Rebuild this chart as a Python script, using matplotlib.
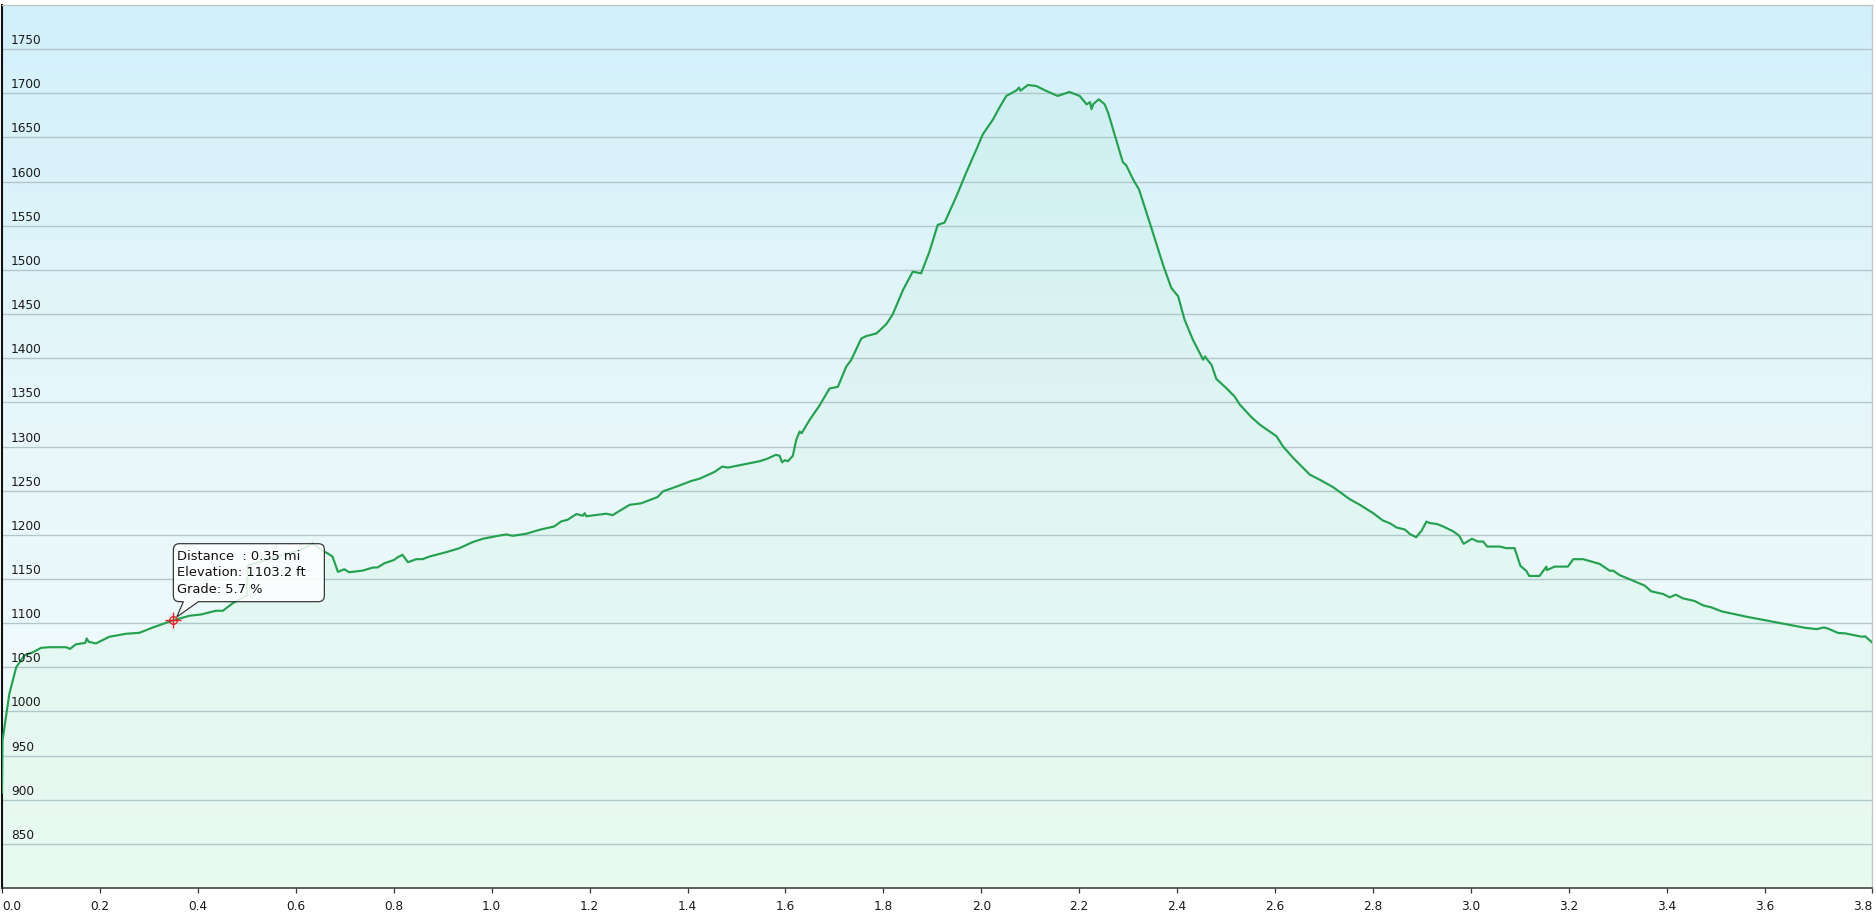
import numpy as np
import matplotlib
matplotlib.use("Agg")
import matplotlib.pyplot as plt
import matplotlib.transforms as mtransforms
from matplotlib.colors import LinearSegmentedColormap
from matplotlib.path import Path
from matplotlib.patches import PathPatch

# elevation profile (miles, feet)
distance_mi = [
    0.000, 0.001, 0.015, 0.029, 0.046, 0.063, 0.080, 0.097, 0.131, 0.139,
    0.151, 0.170, 0.173, 0.177, 0.192, 0.219, 0.253, 0.2805, 0.3077, 0.350,
    0.3826, 0.4065, 0.437, 0.451, 0.471, 0.495, 0.500, 0.502, 0.530, 0.560,
    0.610, 0.634, 0.655, 0.665, 0.675, 0.686, 0.699, 0.709, 0.737, 0.757,
    0.767, 0.781, 0.801, 0.808, 0.818, 0.829, 0.846, 0.859, 0.873, 0.907,
    0.934, 0.961, 0.982, 1.016, 1.030, 1.043, 1.070, 1.098, 1.128, 1.142,
    1.155, 1.173, 1.186, 1.190, 1.193, 1.207, 1.234, 1.247, 1.282, 1.305,
    1.339, 1.350, 1.377, 1.408, 1.425, 1.455, 1.471, 1.482, 1.513, 1.547,
    1.564, 1.580, 1.588, 1.593, 1.599, 1.605, 1.615, 1.622, 1.629, 1.633,
    1.649, 1.670, 1.690, 1.707, 1.724, 1.734, 1.755, 1.765, 1.786, 1.806,
    1.819, 1.840, 1.860, 1.877, 1.894, 1.911, 1.925, 1.949, 1.969, 1.990,
    2.003, 2.024, 2.037, 2.051, 2.072, 2.077, 2.080, 2.095, 2.112, 2.133,
    2.156, 2.180, 2.201, 2.215, 2.222, 2.225, 2.229, 2.240, 2.252, 2.259,
    2.276, 2.289, 2.296, 2.310, 2.322, 2.344, 2.371, 2.388, 2.402, 2.415,
    2.432, 2.453, 2.457, 2.462, 2.470, 2.480, 2.500, 2.517, 2.528, 2.552,
    2.569, 2.603, 2.616, 2.637, 2.671, 2.691, 2.718, 2.752, 2.773, 2.800,
    2.820, 2.834, 2.848, 2.865, 2.875, 2.888, 2.899, 2.909, 2.916, 2.930,
    2.943, 2.964, 2.976, 2.985, 3.002, 3.014, 3.025, 3.033, 3.059, 3.072,
    3.089, 3.101, 3.113, 3.119, 3.140, 3.154, 3.155, 3.171, 3.198, 3.209,
    3.229, 3.263, 3.284, 3.290, 3.304, 3.331, 3.355, 3.368, 3.392, 3.406,
    3.418, 3.433, 3.457, 3.474, 3.491, 3.512, 3.563, 3.645, 3.682, 3.706,
    3.721, 3.730, 3.750, 3.764, 3.798, 3.805, 3.819,
]
elevation_ft = [
    908, 967, 1020, 1050, 1063.6, 1067, 1072, 1072.7, 1072.7, 1070.8,
    1076, 1077.6, 1082.6, 1078.8, 1077, 1084.5, 1087.9, 1089, 1095, 1103.2,
    1108.3, 1109.8, 1114, 1114, 1122.4, 1130, 1131, 1165, 1170, 1175,
    1183, 1190, 1182, 1179, 1175.4, 1158, 1161, 1157.6, 1159.5, 1162.9,
    1163, 1167.8, 1171.6, 1174.6, 1177.3, 1169, 1172.4, 1172.4, 1175.4, 1180.3,
    1184.8, 1191.7, 1195.5, 1199.2, 1200.4, 1198.9, 1201.1, 1205.7, 1209.5, 1215.2,
    1217, 1223.5, 1221.6, 1224.5, 1221, 1222, 1223.9, 1222.3, 1234, 1235.6,
    1242.8, 1249.2, 1254.5, 1261, 1263.6, 1271.2, 1277.3, 1276.1, 1279.5, 1283.3,
    1286.4, 1290.5, 1289.6, 1282.2, 1284.5, 1283.3, 1289.4, 1307.5, 1317, 1315,
    1329.8, 1346.8, 1365.7, 1367.6, 1390.3, 1397.8, 1422.4, 1425, 1428.1, 1438.6,
    1449.6, 1477.2, 1498, 1496.1, 1520.6, 1551, 1553.6, 1583.2, 1610, 1636.5,
    1653.5, 1670.5, 1683.8, 1697, 1703.4, 1706.5, 1703, 1709.4, 1708.3, 1702.6,
    1697, 1701.5, 1697, 1687.5, 1690, 1682, 1688, 1693.2, 1687.5, 1678,
    1646.5, 1622, 1618.4, 1602.5, 1591.2, 1553.4, 1506, 1479.6, 1470.1, 1443.7,
    1421, 1398.3, 1402, 1398, 1392.7, 1376.5, 1366.3, 1356.8, 1347.4, 1333,
    1324.7, 1311.5, 1300.2, 1287, 1268.1, 1262.4, 1254.1, 1240.5, 1234, 1224.6,
    1216.2, 1213.2, 1208.3, 1206, 1201, 1197.2, 1204.5, 1215, 1213.2, 1212.3,
    1209.5, 1203.8, 1198.9, 1189.8, 1195.5, 1192.4, 1192.4, 1186.7, 1186.7, 1184.9,
    1184.9, 1164.8, 1159.1, 1153.4, 1153.4, 1164, 1160, 1164, 1164, 1172.4,
    1172.4, 1167, 1159.1, 1159.5, 1154.2, 1148.1, 1142.4, 1136, 1133, 1129.2,
    1132.2, 1128, 1125, 1120.1, 1117.8, 1113.3, 1107.2, 1098.5, 1094.7, 1093.2,
    1095.1, 1093.6, 1088.8, 1088.4, 1084.6, 1085, 1078.2,
]

y_ticks = list(range(850, 1751, 50))
x_ticks = [0.0, 0.2, 0.4, 0.6, 0.8, 1.0, 1.2, 1.4, 1.6, 1.8, 2.0,
           2.2, 2.4, 2.6, 2.8, 3.0, 3.2, 3.4, 3.6, 3.819]
x_tick_labels = ["0.0", "0.2", "0.4", "0.6", "0.8", "1.0", "1.2", "1.4", "1.6", "1.8",
                 "2.0", "2.2", "2.4", "2.6", "2.8", "3.0", "3.2", "3.4", "3.6", "3.8"]

# hovered point
tip_dist = 0.35
tip_elev = 1103.2
tip_lines = ["Distance  : 0.35 mi", "Elevation: 1103.2 ft", "Grade: 5.7 %"]

x_min, x_max = 0.0, 3.819
y_min, y_max = 800, 1800

W, H = 1876, 918
fig = plt.figure(figsize=(W / 100, H / 100), dpi=100)
ax = fig.add_axes([2 / W, 30 / H, 1870 / W, 883 / H])
ax.set_xlim(x_min, x_max)
ax.set_ylim(y_min, y_max)

# background gradient, sky blue on top to pale mint at the bottom
bg_cmap = LinearSegmentedColormap.from_list("bg", ["#d2f0fa", "#e9f7fb", "#f3fdf9"])
ax.imshow(np.linspace(0, 1, 256).reshape(-1, 1), extent=[x_min, x_max, y_min, y_max],
          aspect="auto", cmap=bg_cmap, origin="upper", zorder=0)

# grid
ax.set_yticks(y_ticks)
ax.grid(axis="y", color="#b3c6cc", lw=1.0, zorder=1)
ax.tick_params(axis="y", length=0, labelleft=False)

# elevation area + line
ax.fill_between(distance_mi, elevation_ft, y_min, color="#8ee3ab", alpha=0.09, lw=0, zorder=2)
ax.plot(distance_mi, elevation_ft, color="#23a14f", lw=1.55, zorder=3, solid_joinstyle="round")

# y labels sit inside the plot, just above each gridline
for v in y_ticks:
    ax.annotate(str(v), xy=(0, v), xycoords=("axes fraction", "data"),
                xytext=(9, 5), textcoords="offset pixels", va="baseline", ha="left",
                fontsize=8.7, color="#1a1a1a", zorder=4)

# x axis
ax.set_xticks(x_ticks)
ax.set_xticklabels(x_tick_labels, fontsize=8.7, color="#1a1a1a")
ax.tick_params(axis="x", direction="out", length=3.5, width=0.9, pad=5, colors="#333333")
for lab in ax.get_xticklabels():
    lab.set_color("#1a1a1a")
ax.get_xticklabels()[0].set_ha("left")
ax.get_xticklabels()[-1].set_ha("right")

# frame
ax.spines["left"].set_color("#111111")
ax.spines["left"].set_linewidth(1.5)
ax.spines["bottom"].set_color("#333333")
ax.spines["bottom"].set_linewidth(1.1)
for s in ("top", "right"):
    ax.spines[s].set_color("#c4c4c4")
    ax.spines[s].set_linewidth(1.0)

# tooltip callout, drawn in pixel offsets from the hovered point
px = mtransforms.IdentityTransform() + mtransforms.ScaledTranslation(tip_dist, tip_elev, ax.transData)
bx0, bx1, by0, by1, r = 0, 151, 18.6, 76.6, 6
verts = [
    (bx0 + r, by0), (10, by0), (3.4, 3.3), (25, by0), (bx1 - r, by0),
    (bx1, by0), (bx1, by0 + r),
    (bx1, by1 - r),
    (bx1, by1), (bx1 - r, by1),
    (bx0 + r, by1),
    (bx0, by1), (bx0, by1 - r),
    (bx0, by0 + r),
    (bx0, by0), (bx0 + r, by0),
]
codes = [Path.MOVETO, Path.LINETO, Path.LINETO, Path.LINETO, Path.LINETO,
         Path.CURVE3, Path.CURVE3,
         Path.LINETO,
         Path.CURVE3, Path.CURVE3,
         Path.LINETO,
         Path.CURVE3, Path.CURVE3,
         Path.LINETO,
         Path.CURVE3, Path.CURVE3]
ax.add_patch(PathPatch(Path(verts, codes), transform=px, facecolor=(1, 1, 1, 0.85),
                       edgecolor="#3a3a3a", lw=0.9, zorder=5, clip_on=False))
for line, dy in zip(tip_lines, [60.3, 44.3, 27.6]):
    ax.annotate(line, xy=(tip_dist, tip_elev), xytext=(4, dy), textcoords="offset pixels",
                va="baseline", ha="left", fontsize=9.4, color="#111111", zorder=6)

# red crosshair marker
ax.plot(tip_dist, tip_elev, "o", ms=5.5, mfc="none", mec="#e8202a", mew=1.0, zorder=7)
ax.plot(tip_dist, tip_elev, "+", ms=11, mec="#e8202a", mew=1.0, zorder=7)

fig.savefig("out.png", dpi=100, facecolor="white")
